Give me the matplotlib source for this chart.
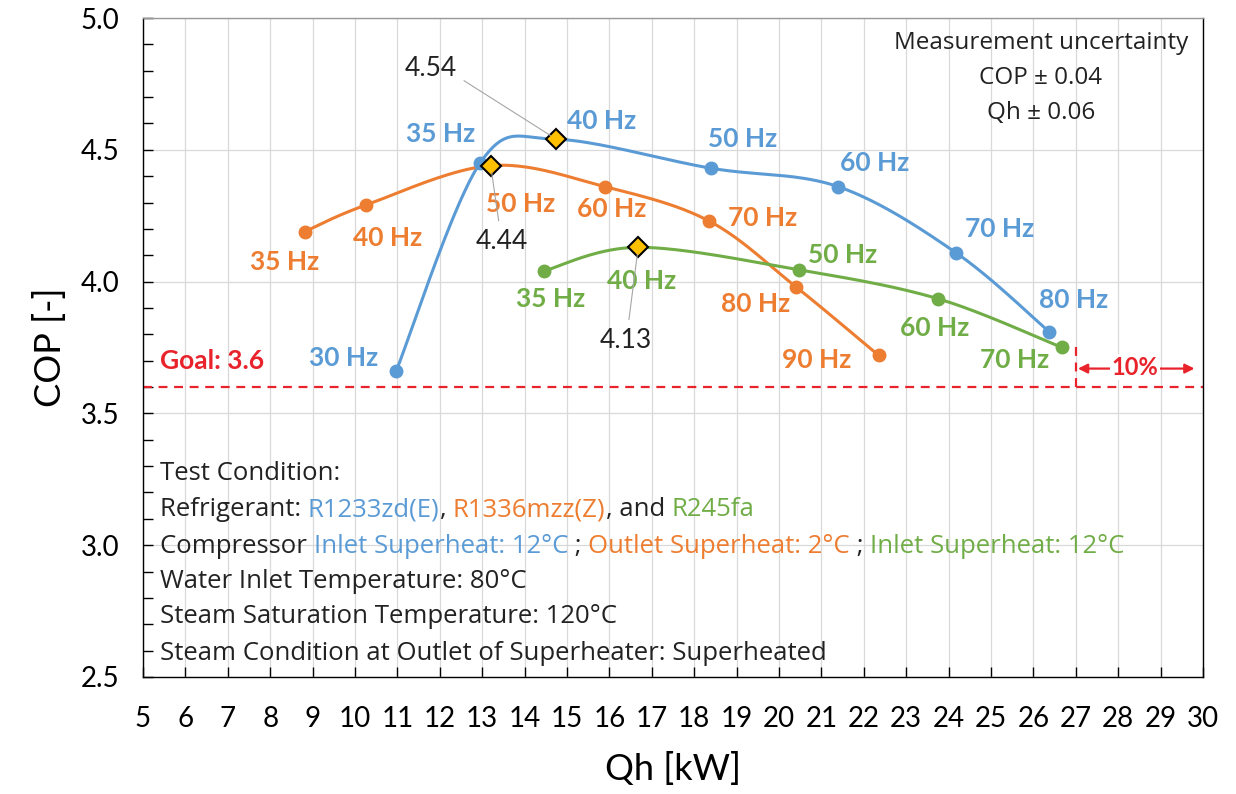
import numpy as np
import matplotlib
matplotlib.use("Agg")
from matplotlib import pyplot as plt
from matplotlib.ticker import MultipleLocator, FormatStrFormatter

plt.rcParams['font.family'] = ['Lato', 'DejaVu Sans']

# Data
blue_qh = [10.97, 12.95, 14.75, 18.4, 21.4, 24.17, 26.37]
blue_cop = [3.66, 4.45, 4.54, 4.43, 4.36, 4.11, 3.81]
blue_hz = [30, 35, 40, 50, 60, 70, 80]

orange_qh = [8.82, 10.25, 13.2, 15.9, 18.35, 20.4, 22.35]
orange_cop = [4.19, 4.29, 4.44, 4.36, 4.23, 3.98, 3.72]
orange_hz = [35, 40, 50, 60, 70, 80, 90]

green_qh = [14.45, 16.68, 20.46, 23.75, 26.67]
green_cop = [4.04, 4.13, 4.045, 3.935, 3.75]
green_hz = [35, 40, 50, 60, 70]

goal_cop = 3.6
qh_max = 30
uncertainty = ["Measurement uncertainty", "COP \u00b1 0.04", "Qh \u00b1 0.06"]

# Colours
c_blue = "#5B9BD5"
c_orange = "#ED7D31"
c_green = "#70AD47"
c_red = "#E8232B"
c_text = "#222222"

# Label offsets in pixels (dx, dy) relative to each point
blue_off = [(-53, 13), (-40, 29), (45, 18), (31, 29), (36, 24), (44, 24), (24, 32)]
orange_off = [(-20, -30), (22, -33), (30, -38), (6, -22), (54, 3), (-40, -17), (-62, -5)]
green_off = [(7, -28), (3, -34), (44, 15), (-3, -29), (-47, -13)]


def excel_smooth(x, y, n=40):
    """Bezier smoothing roughly like Excel's smoothed lines."""
    x = np.asarray(x, float)
    y = np.asarray(y, float)
    px = np.concatenate([[x[0]], x, [x[-1]]])
    py = np.concatenate([[y[0]], y, [y[-1]]])
    t = np.linspace(0, 1, n)[:, None]
    xs, ys = [], []
    for i in range(1, len(px) - 2):
        p0 = np.array([px[i], py[i]])
        p3 = np.array([px[i + 1], py[i + 1]])
        p1 = p0 + (np.array([px[i + 1], py[i + 1]]) - np.array([px[i - 1], py[i - 1]])) / 6
        p2 = p3 - (np.array([px[i + 2], py[i + 2]]) - np.array([px[i], py[i]])) / 6
        seg = ((1 - t) ** 3) * p0 + 3 * ((1 - t) ** 2) * t * p1 + 3 * (1 - t) * t ** 2 * p2 + t ** 3 * p3
        xs.append(seg[:, 0])
        ys.append(seg[:, 1])
    return np.concatenate(xs), np.concatenate(ys)


fig = plt.figure(figsize=(12.36, 7.94), dpi=100)
ax = fig.add_axes([0.1157, 0.1474, 0.8576, 0.8299])
ax.set_xlim(5, qh_max)
ax.set_ylim(2.5, 5.0)

# Grid and ticks
ax.xaxis.set_major_locator(MultipleLocator(1))
ax.yaxis.set_major_locator(MultipleLocator(0.5))
ax.yaxis.set_minor_locator(MultipleLocator(0.1))
ax.yaxis.set_major_formatter(FormatStrFormatter("%.1f"))
ax.grid(True, which='major', color="#D9D9D9", lw=0.9)
ax.set_axisbelow(True)
ax.tick_params(axis='x', direction='in', length=7, width=1, pad=21, labelsize=20)
ax.tick_params(axis='y', which='both', direction='in', length=7, width=1, pad=17, labelsize=20)
for s in ax.spines.values():
    s.set_color("black")
    s.set_linewidth(1.0)
ax.spines['top'].set_color("#999999")

ax.set_xlabel("Qh [kW]", fontsize=26, labelpad=14)
ax.set_ylabel("COP [-]", fontsize=26, labelpad=10)

# Goal line
ax.axhline(goal_cop, color=c_red, lw=1.6, ls=(0, (4, 3)), zorder=2)
ax.text(5.4, goal_cop + 0.1, "Goal: " + str(goal_cop), color=c_red, fontsize=19,
        fontweight='bold', va='center', ha='left')

# Series
series = [(blue_qh, blue_cop, blue_hz, c_blue, blue_off, 2),
          (orange_qh, orange_cop, orange_hz, c_orange, orange_off, 2),
          (green_qh, green_cop, green_hz, c_green, green_off, 1)]
for qh, cop, hz, col, off, best in series:
    sx, sy = excel_smooth(qh, cop)
    ax.plot(sx, sy, color=col, lw=2.2, zorder=3, solid_capstyle='round')
    idx = [i for i in range(len(qh)) if i != best]
    ax.plot([qh[i] for i in idx], [cop[i] for i in idx], 'o', color=col, ms=9,
            zorder=4, mec=col)
    ax.plot(qh[best], cop[best], 'D', color="#FFC000", mec="black", mew=1.5,
            ms=10, zorder=5)
    for i in range(len(qh)):
        ax.annotate("%d Hz" % hz[i], (qh[i], cop[i]), xytext=off[i],
                    textcoords='offset pixels', ha='center', va='center',
                    color=col, fontsize=19, fontweight='bold', zorder=6)

# Best-point value callouts
callouts = [(blue_qh[2], blue_cop[2], (-126, 71), "arc,angleA=0,armA=14,angleB=0,armB=0,rad=0"),
            (orange_qh[2], orange_cop[2], (11, -76), "arc3"),
            (green_qh[1], green_cop[1], (-12, -93), "arc3")]
for qx, qy, off, cs in callouts:
    ax.annotate("%.2f" % qy, (qx, qy), xytext=off, textcoords='offset pixels',
                ha='center', va='center', fontsize=19, color=c_text,
                arrowprops=dict(arrowstyle='-', color="#A6A6A6", lw=0.8,
                                shrinkA=4, shrinkB=5, connectionstyle=cs),
                zorder=6)

# 10% margin marker
q_lim = 0.9 * qh_max
ax.plot([q_lim, q_lim], [goal_cop, green_cop[-1]], color=c_red, lw=1.6,
        ls=(0, (4, 3)), zorder=2)
ax.annotate("", xy=(q_lim + 0.05, 3.67), xytext=(qh_max - 0.2, 3.67),
            arrowprops=dict(arrowstyle='<|-|>', color=c_red, lw=1.6,
                            mutation_scale=14, shrinkA=0, shrinkB=0))
ax.text((q_lim + qh_max) / 2 - 0.1, 3.675, "10%", color=c_red, fontsize=17,
        fontweight='bold', ha='center', va='center',
        bbox=dict(facecolor='white', edgecolor='none', pad=1))

# Uncertainty note
for k, line in enumerate(uncertainty):
    ax.text(0.847, 0.962 - k * 0.053, line, transform=ax.transAxes, ha='center',
            va='center', fontsize=17.5, color=c_text, family='Open Sans')

# Test condition block
text_lines = [
    [("Test Condition:", c_text)],
    [("Refrigerant: ", c_text), ("R1233zd(E)", c_blue), (", ", c_text),
     ("R1336mzz(Z)", c_orange), (", and ", c_text), ("R245fa", c_green)],
    [("Compressor ", c_text), ("Inlet Superheat: 12\u00b0C", c_blue),
     (" ; ", c_text), ("Outlet Superheat: 2\u00b0C", c_orange),
     (" ; ", c_text), ("Inlet Superheat: 12\u00b0C", c_green)],
    [("Water Inlet Temperature: 80\u00b0C", c_text)],
    [("Steam Saturation Temperature: 120\u00b0C", c_text)],
    [("Steam Condition at Outlet of Superheater: Superheated", c_text)],
]
line_y = [0.314, 0.258, 0.203, 0.150, 0.096, 0.040]
for parts, yy in zip(text_lines, line_y):
    prev = ax.text(0.016, yy, parts[0][0], transform=ax.transAxes, color=parts[0][1],
                   fontsize=18.5, family='Open Sans', ha='left', va='center_baseline')
    for s, col in parts[1:]:
        prev = ax.annotate(s, xy=(1, 0), xycoords=prev, ha='left', va='bottom',
                           color=col, fontsize=18.5, family='Open Sans')

fig.savefig("out.png", dpi=100)
